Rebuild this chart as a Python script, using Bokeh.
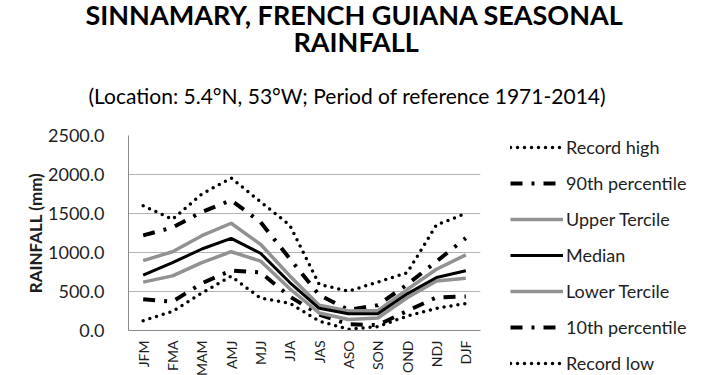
from bokeh.plotting import figure
from bokeh.models import (Range1d, FactorRange, Legend, LegendItem, Title,
                          NumeralTickFormatter, FixedTicker)
from bokeh.embed import file_html
from bokeh.resources import INLINE
from math import pi

# ---------------- data ----------------
seasons = ["JFM", "FMA", "MAM", "AMJ", "MJJ", "JJA",
           "JAS", "ASO", "SON", "OND", "NDJ", "DJF"]
record_high = [1600, 1425, 1750, 1955, 1650, 1350, 590, 505, 620, 740, 1355, 1500]
p90 = [1220, 1320, 1520, 1670, 1390, 920, 455, 265, 325, 590, 885, 1185]
upper_tercile = [895, 1010, 1215, 1375, 1105, 700, 325, 250, 255, 525, 785, 970]
median = [710, 870, 1045, 1180, 990, 615, 285, 215, 215, 470, 680, 765]
lower_tercile = [620, 700, 870, 1010, 890, 535, 225, 140, 160, 420, 635, 670]
p10 = [400, 370, 605, 770, 745, 435, 205, 80, 70, 250, 425, 435]
record_low = [125, 245, 480, 695, 415, 350, 120, 15, 50, 185, 285, 345]
y_ticks = [0, 500, 1000, 1500, 2000, 2500]

title_1 = "SINNAMARY, FRENCH GUIANA SEASONAL"
title_2 = "RAINFALL"
subtitle = "(Location: 5.4\u00b0N, 53\u00b0W; Period of reference 1971-2014)"
y_label = "RAINFALL (mm)"

# ---------------- layout ----------------
W, H = 710, 375
FL, FT, FW, FH = 128, 135, 352, 195
YMAX = 2500
FONT = "Lato"
TXT = "#1e1e1e"

p = figure(x_range=FactorRange(*seasons), y_range=Range1d(0, YMAX),
           frame_width=FW, frame_height=FH,
           min_border_left=FL, min_border_top=FT,
           min_border_right=W - FL - FW, min_border_bottom=H - FT - FH,
           output_backend="svg", toolbar_location=None)
p.x_range.range_padding = 0
p.outline_line_color = None
p.background_fill_color = "white"
p.border_fill_color = "white"

p.ygrid.grid_line_color = "#b4b4b4"
p.ygrid.grid_line_width = 1
p.xgrid.grid_line_color = None

p.yaxis.ticker = FixedTicker(ticks=y_ticks)
p.yaxis.formatter = NumeralTickFormatter(format="0.0")
p.yaxis.axis_line_color = "#8a8a8a"
p.yaxis.major_tick_line_color = None
p.yaxis.minor_tick_line_color = None
p.yaxis.major_label_text_font = FONT
p.yaxis.major_label_text_font_size = "18px"
p.yaxis.major_label_text_color = TXT
p.yaxis.major_label_standoff = 18
p.yaxis.axis_label = y_label
p.yaxis.axis_label_text_font = FONT
p.yaxis.axis_label_text_font_style = "bold"
p.yaxis.axis_label_text_font_size = "17px"
p.yaxis.axis_label_text_color = TXT
p.yaxis.axis_label_standoff = -1

p.xaxis.axis_line_color = "#8a8a8a"
p.xaxis.major_tick_line_color = None
p.xaxis.minor_tick_line_color = None
p.xaxis.major_label_orientation = pi / 2
p.xaxis.major_label_text_font = FONT
p.xaxis.major_label_text_font_size = "14px"
p.xaxis.major_label_text_color = TXT
p.xaxis.major_label_standoff = 4

GRAY = "#929292"
dot = dict(line_color="black", line_width=3.5, line_dash="0 7", line_cap="round")
dashdot = dict(line_color="black", line_width=4, line_dash="12 9 3 9")

r_high = p.line(seasons, record_high, **dot)
r_90 = p.line(seasons, p90, **dashdot)
r_low = p.line(seasons, record_low, **dot)
r_10 = p.line(seasons, p10, **dashdot)
r_up = p.line(seasons, upper_tercile, line_color=GRAY, line_width=3.5)
r_lo = p.line(seasons, lower_tercile, line_color=GRAY, line_width=3.5)
r_med = p.line(seasons, median, line_color="black", line_width=3)

legend = Legend(items=[
    LegendItem(label="Record high", renderers=[r_high]),
    LegendItem(label="90th percentile", renderers=[r_90]),
    LegendItem(label="Upper Tercile", renderers=[r_up]),
    LegendItem(label="Median", renderers=[r_med]),
    LegendItem(label="Lower Tercile", renderers=[r_lo]),
    LegendItem(label="10th percentile", renderers=[r_10]),
    LegendItem(label="Record low", renderers=[r_low]),
], location=(30, -44))
legend.label_text_font = FONT
legend.label_text_font_size = "18px"
legend.label_text_color = TXT
legend.glyph_width = 53
legend.glyph_height = 20
legend.label_height = 20
legend.spacing = 14
legend.padding = 0
legend.margin = 0
legend.label_standoff = 3
legend.border_line_color = None
legend.background_fill_alpha = 0
p.add_layout(legend, "right")

# titles, stacked outward from the frame
p.add_layout(Title(text=subtitle, align="left", offset=-40, standoff=55,
                   text_font=FONT, text_font_style="normal", text_font_size="21px",
                   text_color="black"), "above")
p.add_layout(Title(text=title_2, align="left", offset=165, standoff=-8,
                   text_font=FONT, text_font_style="bold", text_font_size="27px",
                   text_color="black"), "above")
p.add_layout(Title(text=title_1, align="left", offset=-43, standoff=-9,
                   text_font=FONT, text_font_style="bold", text_font_size="27px",
                   text_color="black", text_line_height=0.8), "above")

open("out.html", "w").write(file_html(p, INLINE))
